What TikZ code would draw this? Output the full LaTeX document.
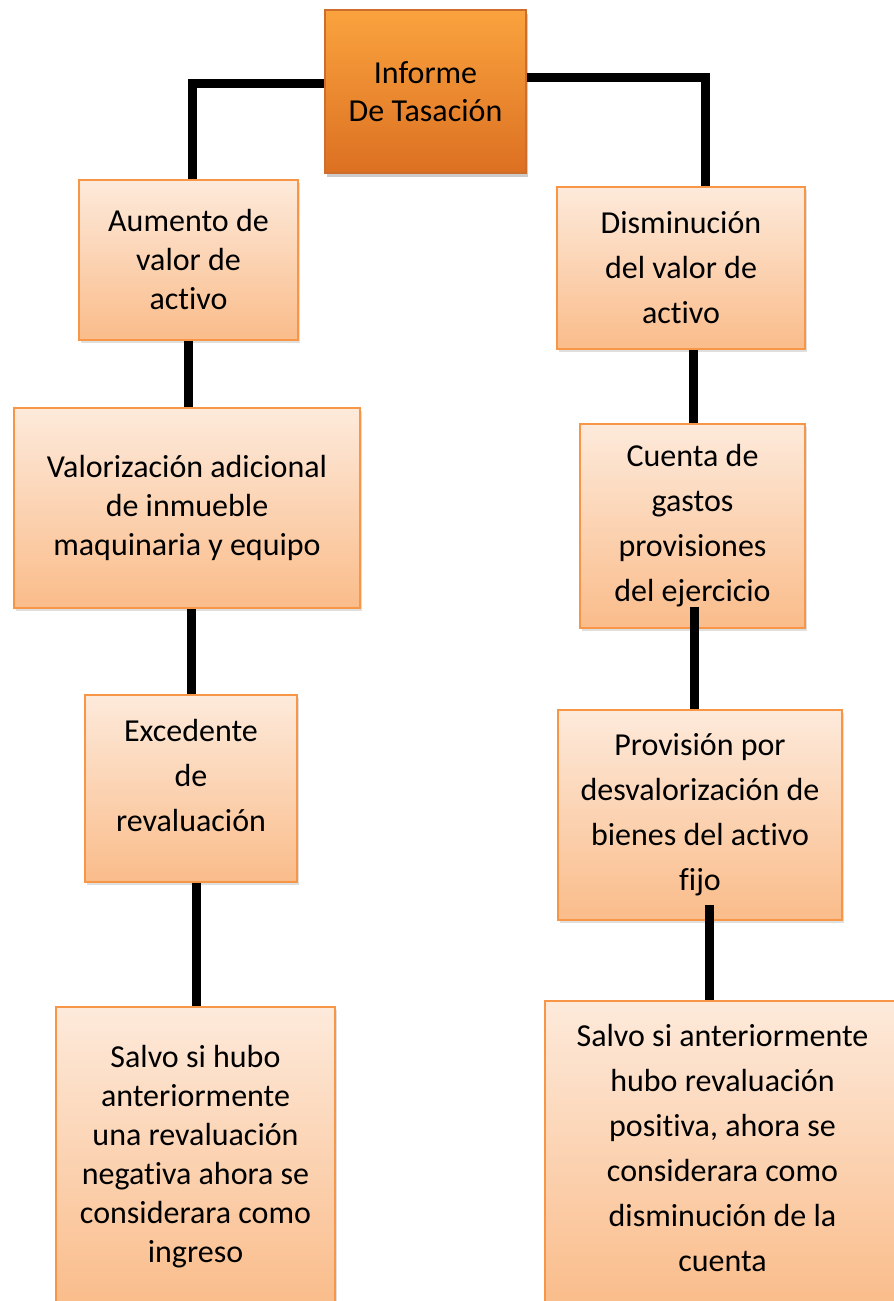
\documentclass[tikz,border=0pt]{standalone}
\usepackage{fontspec}
\setmainfont{Carlito}[Ligatures=NoCommon]
\usepackage{tikz}
\usetikzlibrary{shadows}
\definecolor{boxtop}{RGB}{253, 234, 219}
\definecolor{boxbottom}{RGB}{250, 188, 138}
\definecolor{boxline}{RGB}{247, 150, 70}
\definecolor{headtop}{RGB}{250, 163, 62}
\definecolor{headbottom}{RGB}{220, 112, 34}
\definecolor{headline}{RGB}{205, 110, 45}

\begin{document}
\begin{tikzpicture}[x=1pt, y=-1pt,
        cbox/.style={draw=boxline, line width=1.5pt, top color=boxtop, bottom color=boxbottom,
            align=center, inner sep=0pt, font=\fontsize{32}{45}\selectfont,
            drop shadow={opacity=0.25, shadow xshift=2pt, shadow yshift=-3pt}},
        tight/.style={font=\fontsize{32}{39}\selectfont},
        headbox/.style={draw=headline, line width=1.5pt, top color=headtop, bottom color=headbottom,
            align=center, inner sep=0pt, font=\fontsize{32}{38}\selectfont,
            drop shadow={opacity=0.4, shadow xshift=2pt, shadow yshift=-4pt}},
        conn/.style={line width=9pt, black}]
        \useasboundingbox (0,0) rectangle (894,1301);

        % cabecera
        \node[headbox, minimum width=201pt, minimum height=163pt] (inf) at (425.5,91.5) {Informe\\De Tasación};

        % lado izquierdo
        \node[cbox, tight, minimum width=219pt, minimum height=160pt] (aum) at (188.5,260) {Aumento de\\valor de\\activo};
        \node[cbox, tight, minimum width=346pt, minimum height=200pt] (val) at (187,508) {Valorización adicional\\de inmueble\\maquinaria y equipo};
        \node[cbox, text depth=26pt, minimum width=212pt, minimum height=187pt] (exc) at (191,788.5) {Excedente\\de\\revaluación};
        \node[cbox, tight, minimum width=279pt, minimum height=300pt] (sal1) at (195.5,1157) {Salvo si hubo\\anteriormente\\una revaluación\\negativa ahora se\\considerara como\\ingreso};

        % lado derecho
        \node[cbox, minimum width=248pt, minimum height=162pt] (dis) at (681,268) {Disminución\\del valor de\\activo};
        \node[cbox, minimum width=225pt, minimum height=204pt] (cue) at (692.5,526) {Cuenta de\\gastos\\provisiones\\del ejercicio};
        \node[cbox, minimum width=284pt, minimum height=210pt] (pro) at (700,815) {Provisión por\\desvalorización de\\bienes del activo\\fijo};
        \node[cbox, text depth=12pt, minimum width=355pt, minimum height=305pt] (sal2) at (722.5,1153.5) {Salvo si anteriormente\\hubo revaluación\\positiva, ahora se\\considerara como\\disminución de la\\cuenta};

        % conectores
        \draw[conn] ([yshift=8pt]inf.west) -| ([xshift=4pt]aum.north);
        \draw[conn] ([yshift=14pt]inf.east) -| ([xshift=24pt]dis.north);
        \draw[conn] (aum.south) -- (aum.south |- val.north);
        \draw[conn] ([xshift=4pt]val.south) -- ([xshift=4pt]val.south |- exc.north);
        \draw[conn] ([xshift=5pt]exc.south) -- ([xshift=5pt]exc.south |- sal1.north);
        \draw[conn] ([xshift=12pt]dis.south) -- ([xshift=12pt]dis.south |- cue.north);
        \draw[conn] ([xshift=2pt, yshift=22pt]cue.south) -- ([xshift=2pt]cue.south |- pro.north);
        \draw[conn] ([xshift=9pt, yshift=16pt]pro.south) -- ([xshift=9pt]pro.south |- sal2.north);
    \end{tikzpicture}
\end{document}
